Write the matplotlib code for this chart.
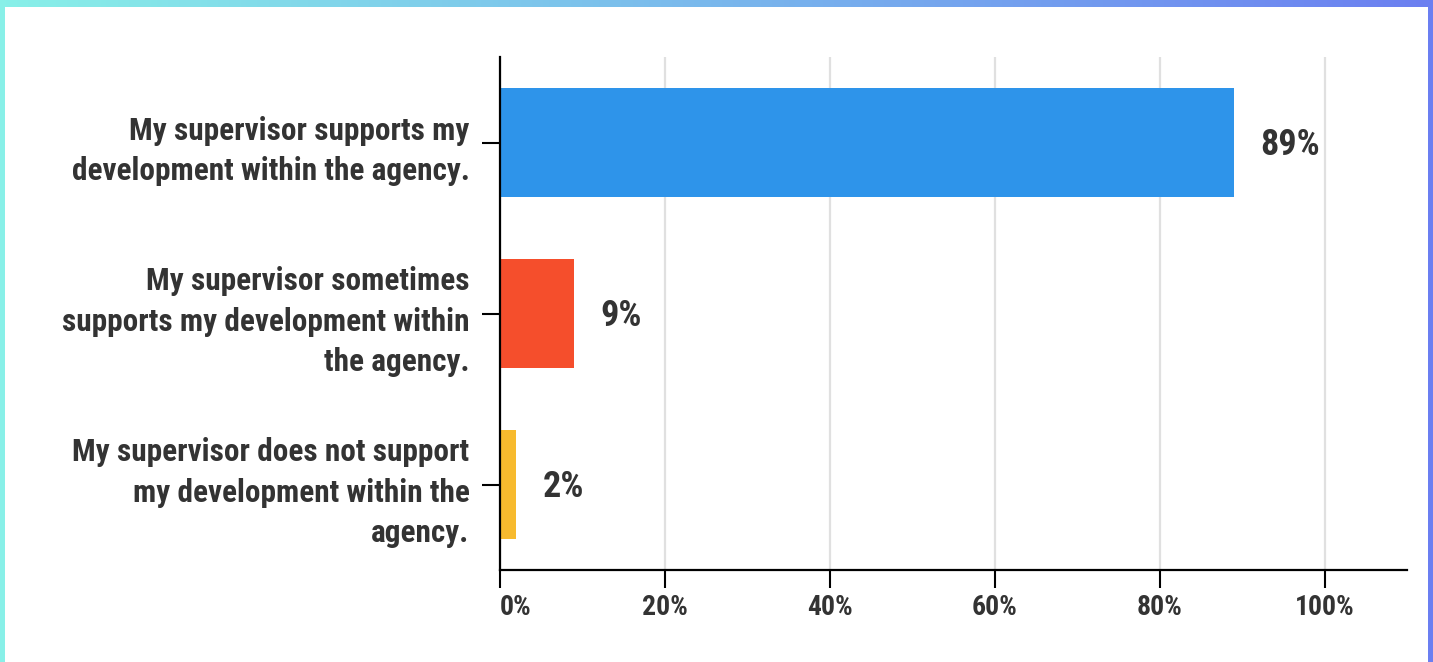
import numpy as np
import matplotlib.pyplot as plt
from matplotlib.colors import LinearSegmentedColormap
from matplotlib.patches import Rectangle

categories = [
    "My supervisor supports my\ndevelopment within the agency.",
    "My supervisor sometimes\nsupports my development within\nthe agency.",
    "My supervisor does not support\nmy development within the\nagency.",
]
shares = [89, 9, 2]
bar_colors = ["#2E94EA", "#F54E2C", "#F7BA2E"]
xticks = [0, 20, 40, 60, 80, 100]
xtick_labels = ["0%", "20%", "40%", "60%", "80%", "100%"]

plt.rcParams['font.family'] = ['Roboto Condensed', 'Liberation Sans Narrow', 'Roboto', 'DejaVu Sans']
plt.rcParams['font.weight'] = 'bold'
txt = '#333333'

W, H = 1433, 662
fig = plt.figure(figsize=(W/100, H/100), dpi=100)

# gradient frame behind a white card
bg = fig.add_axes([0, 0, 1, 1])
grad = np.linspace(0, 1, 256).reshape(1, -1)
cmap = LinearSegmentedColormap.from_list('frame', ['#88F0E8', '#6B7FF1'])
bg.imshow(grad, cmap=cmap, aspect='auto', extent=[0, 1, 0, 1])
bg.add_patch(Rectangle((5/W, 0), (W-10)/W, (H-7)/H, transform=bg.transAxes,
                       color='white', lw=0))
bg.set_xlim(0, 1)
bg.set_ylim(0, 1)
bg.axis('off')

ax = fig.add_axes([500/W, (H-570)/H, 907/W, 513/H])
ax.set_zorder(2)
ax.patch.set_alpha(0)

y = np.arange(len(categories))
ax.barh(y, shares, height=0.64, color=bar_colors, zorder=3)
for yi, v in zip(y, shares):
    ax.annotate(f"{v}%", (v, yi), xytext=(19, -2), textcoords='offset points',
                va='center', ha='left', fontsize=26, color=txt, fontweight='bold')

ax.set_xlim(0, 110)
ax.set_ylim(len(categories) - 0.5, -0.5)
ax.set_yticks(y)
ax.set_yticklabels(categories, fontsize=22.5, color=txt, fontweight='bold',
                   linespacing=1.42)
ax.set_xticks(xticks)
ax.set_xticklabels(xtick_labels, fontsize=20, color=txt, fontweight='bold')
ax.get_xticklabels()[0].set_horizontalalignment('left')

ax.grid(axis='x', color='#E0E0E0', lw=1.6, zorder=0)
ax.tick_params(axis='both', length=13, width=1.5, color='black')
ax.tick_params(axis='y', pad=9)
ax.tick_params(axis='x', pad=4)
for s in ['top', 'right']:
    ax.spines[s].set_visible(False)
for s in ['left', 'bottom']:
    ax.spines[s].set_linewidth(1.6)
    ax.spines[s].set_zorder(4)

fig.savefig('out.png', dpi=100)
